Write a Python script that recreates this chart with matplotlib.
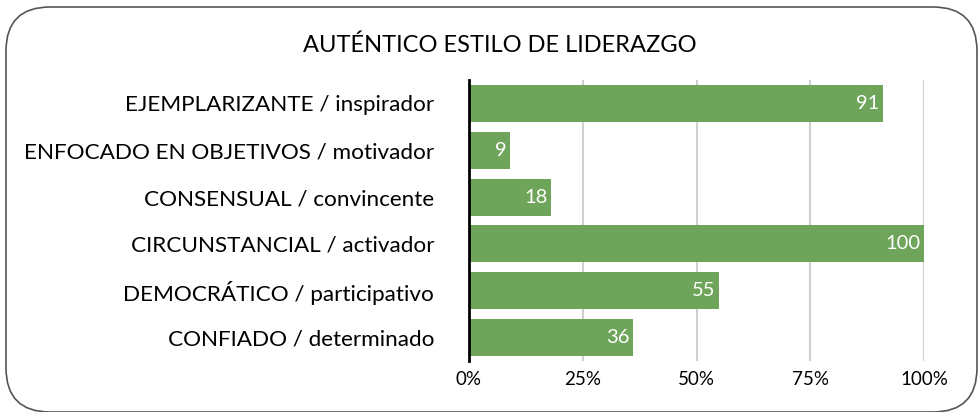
import matplotlib.pyplot as plt
from matplotlib.patches import FancyBboxPatch
from matplotlib.ticker import FuncFormatter

plt.rcParams['font.family'] = ['Lato', 'DejaVu Sans']

categorias = ['EJEMPLARIZANTE / inspirador', 'ENFOCADO EN OBJETIVOS / motivador',
              'CONSENSUAL / convincente', 'CIRCUNSTANCIAL / activador',
              'DEMOCRÁTICO / participativo', 'CONFIADO / determinado']
valores = [91, 9, 18, 100, 55, 36]
ticks = [0, 25, 50, 75, 100]

fig = plt.figure(figsize=(9.79, 4.12), dpi=100)

# marco redondeado
marco = FancyBboxPatch((6 / 979, 1 - 412 / 412), 971 / 979, 405 / 412,
                       boxstyle='round,pad=0,rounding_size=0.045',
                       transform=fig.transFigure, fill=False,
                       edgecolor='#555555', linewidth=1.2, mutation_aspect=979 / 412)
fig.patches.append(marco)

ax = fig.add_axes([469 / 979, 1 - 361 / 412, 455 / 979, 281 / 412])
y = range(len(categorias))
barras = ax.barh(y, valores, height=0.79, color='#6ea55a')
ax.set_ylim(len(categorias) - 0.5, -0.5)
ax.set_xlim(0, 100)
ax.set_yticks(list(y))
ax.set_yticklabels(categorias, fontsize=16.2)
ax.set_xticks(ticks)
ax.xaxis.set_major_formatter(FuncFormatter(lambda v, p: '%d%%' % v))
ax.tick_params(axis='x', labelsize=13.5, length=0, pad=7)
ax.tick_params(axis='y', length=0, pad=25)
ax.grid(axis='x', color='#d0d0d0', linewidth=1.5)
ax.set_axisbelow(True)
for s in ['top', 'right', 'bottom']:
    ax.spines[s].set_visible(False)
ax.spines['left'].set_linewidth(2)
ax.spines['left'].set_color('black')

# valores dentro de las barras
for b, v in zip(barras, valores):
    ax.text(b.get_width() - 0.8, b.get_y() + b.get_height() / 2, str(v),
            ha='right', va='center', color='white', fontsize=14.5)

fig.text(500 / 979, 1 - 45 / 412, 'AUTÉNTICO ESTILO DE LIDERAZGO',
         ha='center', va='center', fontsize=17)

plt.savefig('out.png', dpi=100)
